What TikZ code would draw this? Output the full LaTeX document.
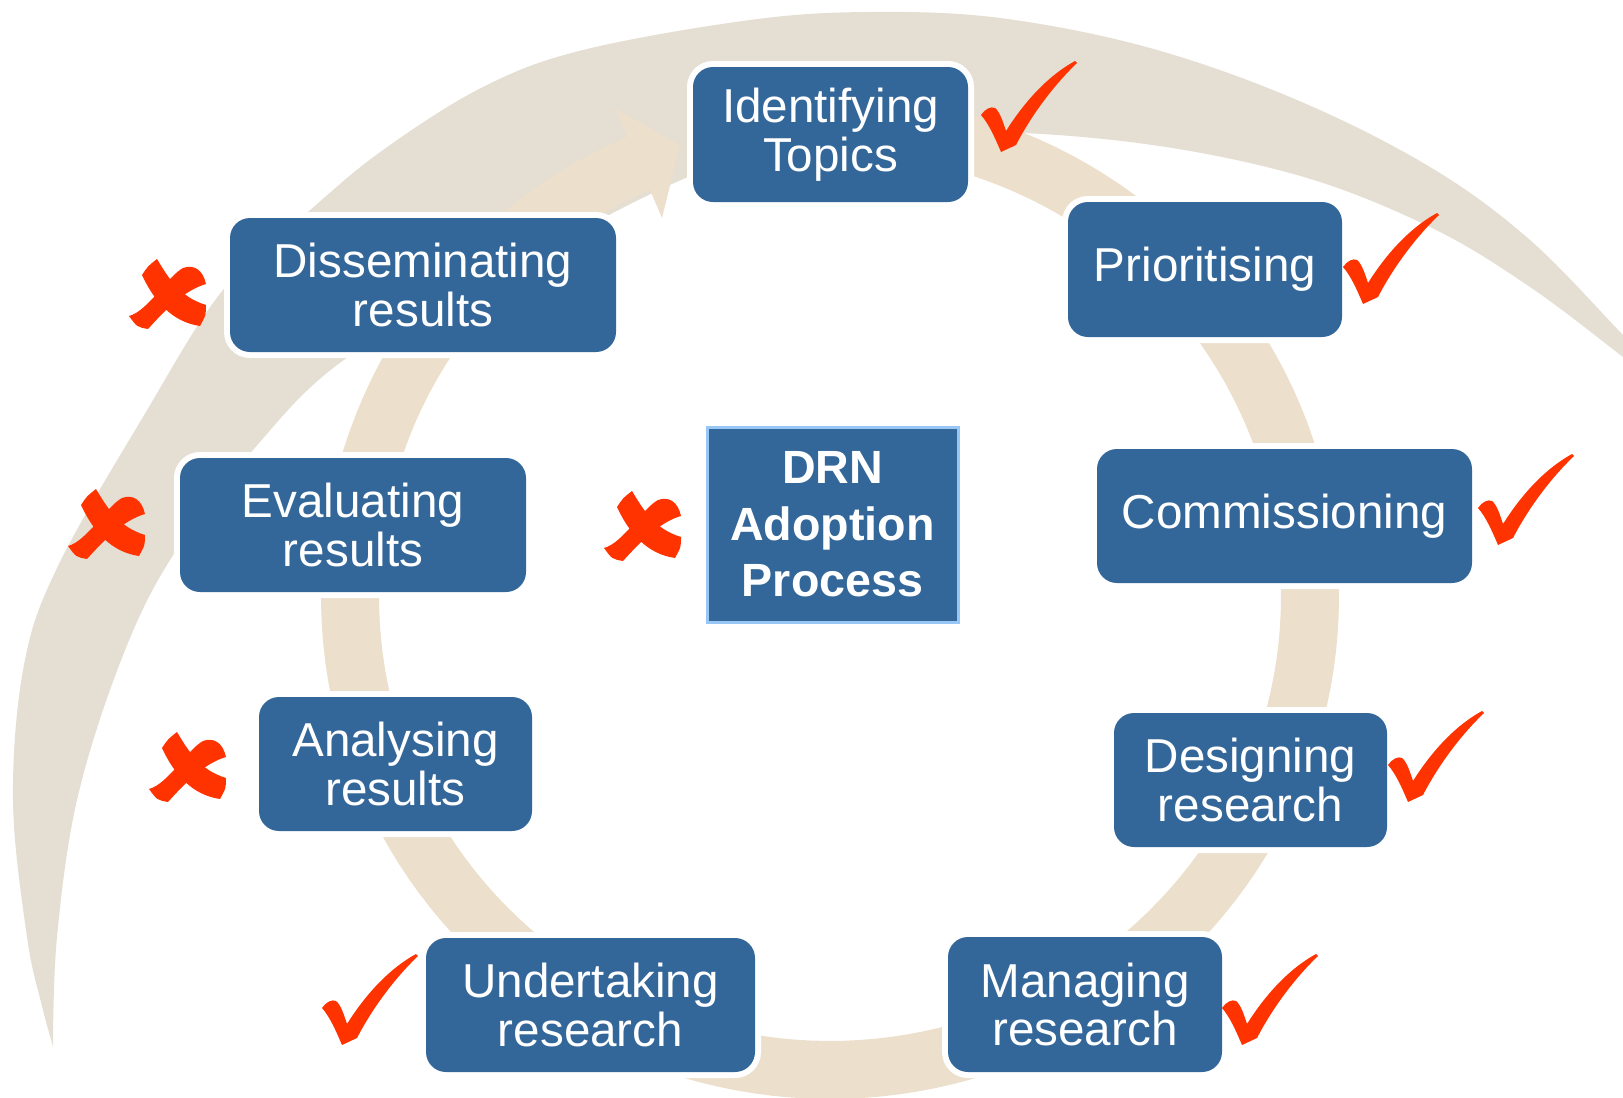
\documentclass[tikz,border=0pt]{standalone}
\usepackage{fontspec}
\setmainfont{Liberation Sans}
\definecolor{boxblue}{RGB}{52,103,153}
\definecolor{ringc}{RGB}{236,223,204}
\definecolor{crescc}{RGB}{228,222,211}
\definecolor{tickred}{RGB}{255,51,0}
\definecolor{drnborder}{RGB}{153,199,245}
\tikzset{
  stage/.style={rounded corners=10pt, fill=boxblue, text=white, align=center,
    inner sep=0pt, font=\fontsize{23.8}{24.2}\selectfont,
    preaction={draw=white, line width=6pt}},
  centrebox/.style={fill=boxblue, draw=drnborder, line width=1.5pt, text=white,
    align=center, inner sep=0pt, font=\bfseries\fontsize{23.3}{28.3}\selectfont},
  checkmk/.pic={
    \fill[tickred] (0,0) .. controls (-6,-14) and (-12,-28) .. (-20,-37)
      .. controls (-16,-43) and (-10,-46) .. (-6,-44)
      .. controls (-1,-40) and (2,-30) .. (5,-21)
      .. controls (22,-48) and (45,-75) .. (74,-91) -- (76,-89)
      .. controls (52,-66) and (30,-36) .. (15,-7) -- cycle;
  },
  crossmk/.pic={
    \fill[tickred] (-26,-20) .. controls (-20,-29) .. (-11,-36)
      .. controls (1,-16) and (12,2) .. (38,10)
      .. controls (38,20) .. (32,31)
      .. controls (4,27) and (-14,6) .. (-26,-20) -- cycle;
    \fill[tickred] (15,-27) .. controls (26,-31) and (35,-25) .. (38,-11)
      .. controls (17,-5) and (-2,14) .. (-20,34)
      .. controls (-31,32) .. (-39,21)
      .. controls (-20,16) and (0,-19) .. (15,-27) -- cycle;
  }
}
\begin{document}
\begin{tikzpicture}[x=0.5pt,y=-0.5pt]
\useasboundingbox (0,0) rectangle (1623,1098);
\clip (0,0) rectangle (1623,1098);
% outer crescent
\fill[crescc] plot[smooth, tension=0.6] coordinates {(53,1046) (42,1006) (27,937) (13,800) (24,665) (58,566) (143,417) (223,290) (308,212) (383,150) (483,87) (583,50) (750,20) (870,12) (1000,18) (1150,48) (1297,100) (1430,167) (1530,240) (1623,335) (1650,362)}
  -- plot[smooth, tension=0.6] coordinates {(1650,378) (1623,357) (1530,287) (1430,227) (1297,175) (1130,142) (950,132) (800,150) (693,175) (520,262) (348,357) (253,450) (170,560) (120,663) (77,800) (57,937) (53,1046)} -- cycle;
% inner ring with arrowhead
\draw[ringc, line width=29pt] plot[domain=-80:246.5, samples=160, variable=\t] ({830+480*cos(\t)},{597+473*sin(\t)});
\fill[ringc] (615,108) -- (680,145) -- (662,218) -- cycle;
% stages
\node[stage, minimum width=137.5pt, minimum height=67.5pt] (idt) at (830.5,134.5) {Identifying\\Topics};
\node[stage, minimum width=137pt, minimum height=67.5pt] (pri) at (1205,269.5) {Prioritising};
\node[stage, minimum width=187.5pt, minimum height=67pt] (com) at (1284.5,516) {Commissioning};
\node[stage, minimum width=136.5pt, minimum height=67pt] (des) at (1250.5,780) {Designing\\research};
\node[stage, minimum width=137pt, minimum height=67.5pt] (man) at (1085,1004.5) {Managing\\research};
\node[stage, minimum width=164.5pt, minimum height=67pt] (und) at (590.5,1005) {Undertaking\\research};
\node[stage, minimum width=136.5pt, minimum height=67pt] (ana) at (395.5,764) {Analysing\\results};
\node[stage, minimum width=173pt, minimum height=67pt] (eva) at (353,525) {Evaluating\\results};
\node[stage, minimum width=193pt, minimum height=67pt] (dis) at (423,285) {Disseminating\\results};
\node[centrebox, minimum width=125.5pt, minimum height=97.5pt] (drn) at (832.5,524.5) {DRN\\Adoption\\Process};
% ticks
\pic at (1001,152) {checkmk};
\pic at (1363,304) {checkmk};
\pic at (1498,545) {checkmk};
\pic at (1408,802) {checkmk};
\pic at (1242,1045) {checkmk};
\pic at (342,1045) {checkmk};
% crosses
\pic at (168,295) {crossmk};
\pic at (107,525) {crossmk};
\pic at (188,768) {crossmk};
\pic at (643,527) {crossmk};
\end{tikzpicture}
\end{document}
